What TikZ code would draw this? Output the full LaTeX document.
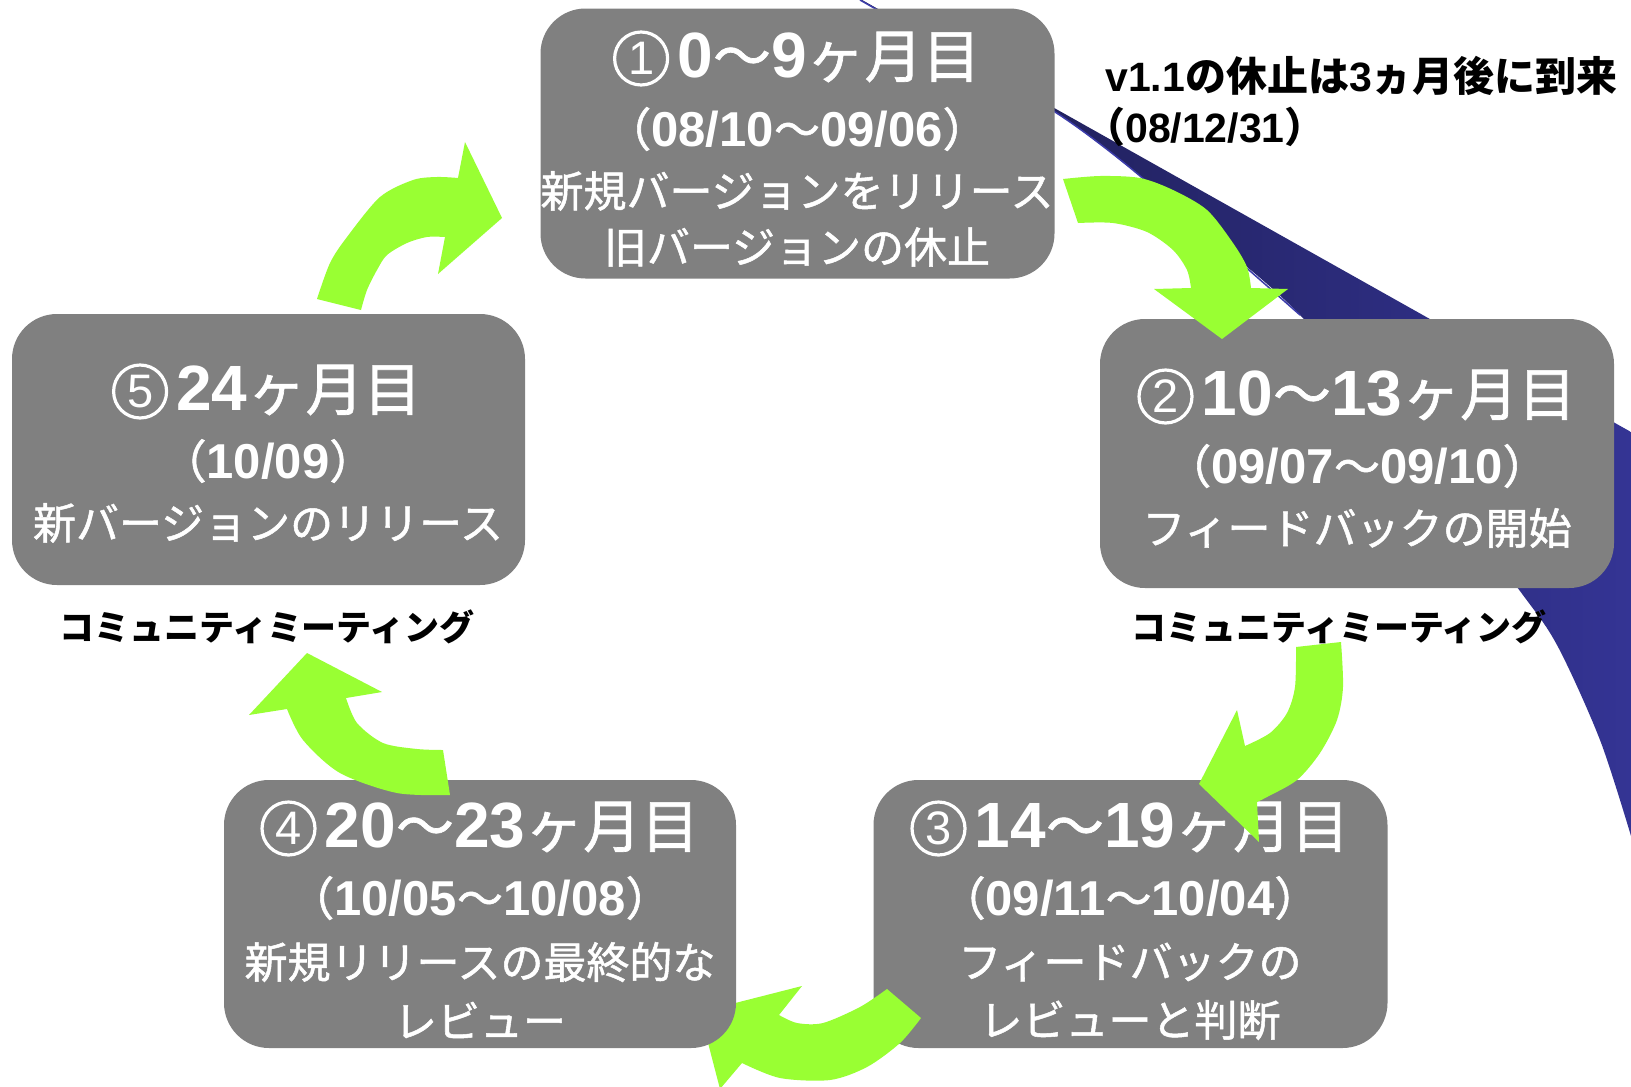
\documentclass[tikz,border=0pt]{standalone}
\usepackage{fontspec}
\newfontfamily\cjr{Noto Sans CJK JP}
\newfontfamily\cjm{Noto Sans CJK JP}[FakeBold=1.2]
\newfontfamily\lat{Liberation Sans}
\definecolor{boxgray}{RGB}{128,128,128}
\definecolor{limeg}{RGB}{153,255,51}
\definecolor{navyL}{RGB}{28,28,78}
\definecolor{navyR}{RGB}{52,52,148}
\definecolor{edgeblue}{RGB}{60,60,170}
\newcommand\TitJ[1]{{\cjm\fontsize{58}{60}\selectfont #1}}
\newcommand\TitA[1]{{\lat\bfseries\fontsize{64}{60}\selectfont #1}}
\newcommand\SubJ[1]{{\cjm\fontsize{46}{50}\selectfont #1}}
\newcommand\SubA[1]{{\lat\bfseries\fontsize{49}{50}\selectfont #1}}
\newcommand\BodJ[1]{{\cjm\fontsize{43}{45}\selectfont #1}}
\newcommand\NotJ[1]{{\cjr\bfseries\fontsize{41}{44}\selectfont #1}}
\newcommand\NotA[1]{{\lat\bfseries\fontsize{41}{44}\selectfont #1}}
\newcommand\MeetJ[1]{{\cjr\bfseries\fontsize{35}{38}\selectfont #1}}
\tikzset{
  boxst/.style={fill=boxgray, draw=none, rounded corners=45pt, inner sep=0pt},
  txt/.style={text=white, inner sep=0pt, anchor=center},
  lab/.style={text=black, inner sep=0pt},
  garrow/.style={fill=limeg, draw=none},
  circnum/.style={circle, draw=white, line width=3.2pt, minimum size=53pt, inner sep=0pt, text=white, anchor=east, font=\lat\fontsize{47}{47}\selectfont},
}
\begin{document}
\begin{tikzpicture}[x=1pt,y=-1pt]
\useasboundingbox (0,0) rectangle (1631,1087);
\fill[white] (0,0) rectangle (1631,1087);
% blue wedge
\shade[left color=navyL, right color=navyR] (862,0) -- (1631,432) -- plot[smooth] coordinates {(1631,836) (1600,740) (1557,645) (1517,587) (1410,445) (1300,315) (1210,236) (1123,162) (1055,112) (960,57) (860,0)} -- cycle;
\draw[edgeblue, line width=1.5pt] plot[smooth] coordinates {(1300,315) (1210,236) (1123,162) (1055,112) (960,57) (860,0)};
% boxes
\node[boxst, minimum width=514pt, minimum height=270pt] (b1) at (797.5,143.5) {};
\node[boxst, minimum width=514pt, minimum height=269pt] (b2) at (1357,453.5) {};
\node[boxst, minimum width=514pt, minimum height=268pt] (b3) at (1130.5,914) {};
\node[boxst, minimum width=513pt, minimum height=271pt] (b5) at (268.5,449.5) {};
% arrow D (behind box 4)
\fill[garrow] plot[smooth] coordinates {(887,989) (860,1007) (823,1023) (797,1023) (779,1015)} -- (802,986) -- (700,1012) -- (720,1089) -- (742,1063) -- plot[smooth] coordinates {(742,1063) (780,1078) (830,1080) (867,1067) (900,1043) (921,1018)} -- cycle;
\node[boxst, minimum width=512pt, minimum height=268pt] (b4) at (480,914) {};
% texts
\node[txt] (t1a) at (829,57) {\TitA{0}\TitJ{～}\TitA{9}\TitJ{ヶ月目}};
\node[circnum] (c1) at ([xshift=-8pt,yshift=-1.5pt]t1a.west) {1};
\node[txt] (t1b) at (797,129) {\SubJ{（}\SubA{08/10}\SubJ{～}\SubA{09/06}\SubJ{）}};
\node[txt] (t1c) at (797,191) {\BodJ{新規バージョンをリリース}};
\node[txt] (t1d) at (797,247) {\BodJ{旧バージョンの休止}};
\node[txt] (t2a) at (1389,395) {\TitA{10}\TitJ{～}\TitA{13}\TitJ{ヶ月目}};
\node[circnum] (c2) at ([xshift=-8pt,yshift=-1.5pt]t2a.west) {2};
\node[txt] (t2b) at (1357,466) {\SubJ{（}\SubA{09/07}\SubJ{～}\SubA{09/10}\SubJ{）}};
\node[txt] (t2c) at (1357,528) {\BodJ{フィードバックの開始}};
\node[txt] (t3a) at (1162,827) {\TitA{14}\TitJ{～}\TitA{19}\TitJ{ヶ月目}};
\node[circnum] (c3) at ([xshift=-8pt,yshift=-1.5pt]t3a.west) {3};
\node[txt] (t3b) at (1130,898) {\SubJ{（}\SubA{09/11}\SubJ{～}\SubA{10/04}\SubJ{）}};
\node[txt] (t3c) at (1130,962) {\BodJ{フィードバックの}};
\node[txt] (t3d) at (1130,1020) {\BodJ{レビューと判断}};
\node[txt] (t4a) at (512,827) {\TitA{20}\TitJ{～}\TitA{23}\TitJ{ヶ月目}};
\node[circnum] (c4) at ([xshift=-8pt,yshift=-1.5pt]t4a.west) {4};
\node[txt] (t4b) at (480,898) {\SubJ{（}\SubA{10/05}\SubJ{～}\SubA{10/08}\SubJ{）}};
\node[txt] (t4c) at (480,962) {\BodJ{新規リリースの最終的な}};
\node[txt] (t4d) at (480,1020) {\BodJ{レビュー}};
\node[txt] (t5a) at (299,390) {\TitA{24}\TitJ{ヶ月目}};
\node[circnum] (c5) at ([xshift=-8pt,yshift=-1.5pt]t5a.west) {5};
\node[txt] (t5b) at (268,461) {\SubJ{（}\SubA{10/09}\SubJ{）}};
\node[txt] (t5c) at (268,523) {\BodJ{新バージョンのリリース}};
% arrows on top
\fill[garrow] plot[smooth] coordinates {(317,299) (330,263) (347,237) (380,197) (413,180) (437,177) (458,178)} -- (465,142) -- (502,218) -- (438,274) -- (445,237) -- plot[smooth] coordinates {(445,237) (427,237) (407,243) (387,255) (377,270) (367,290) (361,310)} -- cycle;
\fill[garrow] plot[smooth] coordinates {(1063,179) (1100,176) (1140,178) (1173,190) (1207,210) (1233,243) (1247,267) (1251,288)} -- (1288,289) -- (1222,339) -- (1154,289) -- (1191,288) -- plot[smooth] coordinates {(1191,288) (1187,270) (1173,250) (1147,232) (1113,223) (1078,223)} -- cycle;
\fill[garrow] plot[smooth] coordinates {(1341,642) (1343,687) (1337,720) (1320,753) (1297,780) (1267,797) (1257,802)} -- (1259,842) -- (1199,784) -- (1237,710) -- (1245,746) -- plot[smooth] coordinates {(1245,746) (1270,733) (1287,713) (1295,687) (1296,647)} -- cycle;
\fill[garrow] plot[smooth] coordinates {(450,795) (397,793) (340,773) (303,740) (287,709)} -- (249,715) -- (307,653) -- (382,692) -- (346,698) -- plot[smooth] coordinates {(346,698) (357,723) (383,743) (417,749) (443,750)} -- cycle;
% labels
\node[lab] (m5) at (267,627) {\MeetJ{コミュニティミーティング}};
\node[lab] (m2) at (1339,627) {\MeetJ{コミュニティミーティング}};
\node[lab, anchor=west] (n1) at (1105,76) {\NotA{v1.1}\NotJ{の休止は}\NotA{3}\NotJ{ヵ月後に到来}};
\node[lab, anchor=west] (n2) at (1084,127) {\NotJ{（}\NotA{08/12/31}\NotJ{）}};
\end{tikzpicture}
\end{document}
